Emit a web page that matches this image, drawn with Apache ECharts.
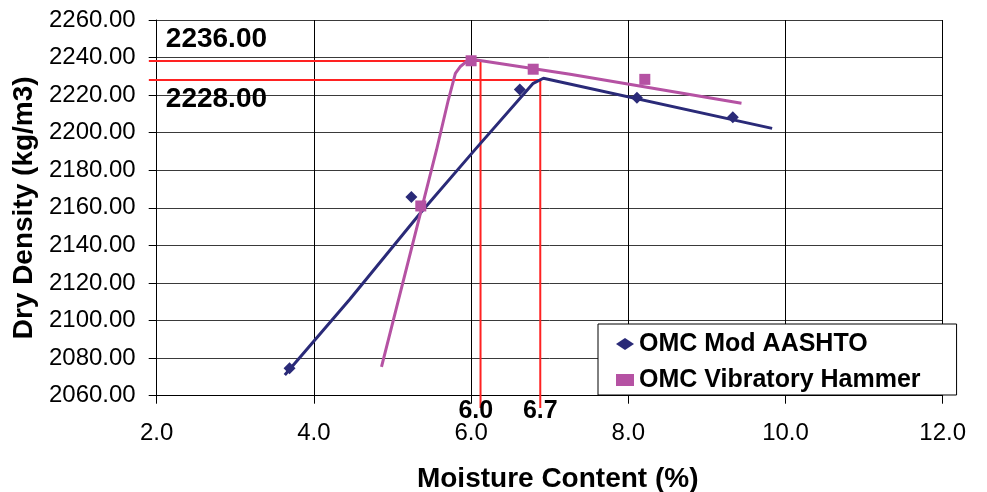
<!DOCTYPE html>
<html>
<head>
<meta charset="utf-8">
<script src="https://cdn.jsdelivr.net/npm/echarts@6/dist/echarts.min.js"></script>
<style>html,body{margin:0;padding:0;background:#fff}#c{width:987px;height:492px}</style>
</head>
<body>
<div id="c"></div>
<script>
// ---- data ----
const aashtoMoisture = [3.69, 5.24, 6.62, 8.11, 9.33];
const aashtoDensity  = [2074.6, 2165.8, 2223.0, 2218.6, 2208.2];
const hammerMoisture = [5.36, 6.00, 6.79, 8.21];
const hammerDensity  = [2161.0, 2238.3, 2233.8, 2228.4];
const aashtoFitX = [3.63, 4.46, 5.35, 6.05, 6.79, 6.92, 9.83];
const aashtoFitY = [2071.0, 2111.5, 2157.0, 2191.0, 2226.3, 2229.0, 2202.3];
const hammerFitX = [4.86, 5.56, 5.71, 5.80, 5.86, 5.94, 6.07, 7.26, 9.44];
const hammerFitY = [2075.4, 2190.8, 2217.4, 2231.6, 2235.1, 2237.8, 2238.7, 2231.1, 2215.7];
const omcX = [6.12, 6.88];            // vertical guide lines
const omcXLabels = ['6.0', '6.7'];
const maxDensity = [2238.2, 2228.1];  // horizontal guide lines
const maxDensityLabels = ['2236.00', '2228.00'];
const seriesNames = ['OMC Mod AASHTO', 'OMC Vibratory Hammer'];

const NAVY = '#2A2A78';
const MAGENTA = '#B552A3';
const RED = '#FF2222';
const FONT = 'Liberation Sans';

const zip = (a, b) => a.map((v, i) => [v, b[i]]);

const chart = echarts.init(document.getElementById('c'));
chart.setOption({
  animation: false,
  backgroundColor: '#fff',
  grid: {left: 156.7, right: 44.3, top: 20, bottom: 96.3, outerBoundsMode: 'none', containLabel: false},
  xAxis: {
    type: 'value', min: 2, max: 12, interval: 2,
    name: 'Moisture Content (%)', nameLocation: 'middle', nameGap: 70,
    nameTextStyle: {fontFamily: FONT, fontWeight: 'bold', fontSize: 28, color: '#000', padding: [0, 0, 0, 16]},
    axisLine: {lineStyle: {color: '#000', width: 1}},
    axisTick: {show: true, length: 8, lineStyle: {color: '#000'}},
    axisLabel: {formatter: v => v.toFixed(1), fontFamily: FONT, fontSize: 24, color: '#000', margin: 26},
    splitLine: {show: true, lineStyle: {color: '#000', width: 1}}
  },
  yAxis: {
    type: 'value', min: 2060, max: 2260, interval: 20,
    name: 'Dry Density (kg/m3)', nameLocation: 'middle', nameGap: 118, nameRotate: 90,
    nameTextStyle: {fontFamily: FONT, fontWeight: 'bold', fontSize: 28, color: '#000'},
    axisLine: {show: true, lineStyle: {color: '#000', width: 1}},
    axisTick: {show: true, length: 8, lineStyle: {color: '#000'}},
    axisLabel: {formatter: v => v.toFixed(2), fontFamily: FONT, fontSize: 24, color: '#000', margin: 21},
    splitLine: {show: true, lineStyle: {color: '#3a3a3a', width: 1}}
  },
  legend: {
    data: seriesNames,
    orient: 'vertical', left: 598, top: 324,
    padding: [7, 36, 2, 18],
    itemGap: 10, itemWidth: 18, itemHeight: 12, symbolKeepAspect: true,
    backgroundColor: '#fff', borderColor: '#000', borderWidth: 1, borderRadius: 0,
    textStyle: {fontFamily: FONT, fontWeight: 'bold', fontSize: 25, color: '#000', lineHeight: 26}
  },
  series: [
    {
      name: 'aashtoFit', type: 'line', data: zip(aashtoFitX, aashtoFitY), showSymbol: false, symbol: 'none',
      lineStyle: {color: NAVY, width: 3}, itemStyle: {color: NAVY}, z: 3, silent: true
    },
    {
      name: 'hammerFit', type: 'line', data: zip(hammerFitX, hammerFitY), showSymbol: false, symbol: 'none',
      lineStyle: {color: MAGENTA, width: 3}, itemStyle: {color: MAGENTA}, z: 3, silent: true
    },
    {
      name: seriesNames[0], type: 'scatter', data: zip(aashtoMoisture, aashtoDensity),
      symbol: 'diamond', symbolSize: 12, itemStyle: {color: NAVY, opacity: 1}, z: 5
    },
    {
      name: seriesNames[1], type: 'scatter', data: zip(hammerMoisture, hammerDensity),
      symbol: 'rect', symbolSize: 11, itemStyle: {color: MAGENTA, opacity: 1}, z: 5
    }
  ]
});

// guide lines and their labels, positioned through the chart's own scales
const P = (x, y) => chart.convertToPixel({gridIndex: 0}, [x, y]);
const elements = [];
const xLeft = 1.9, yBottom = 2053.5;
for (let i = 0; i < 2; i++) {
  const a = P(xLeft, maxDensity[i]), b = P(omcX[i], maxDensity[i]), c = P(omcX[i], yBottom);
  elements.push({type: 'line', z: 1, silent: true,
    shape: {x1: a[0], y1: a[1], x2: b[0], y2: b[1]}, style: {stroke: RED, lineWidth: 2}});
  elements.push({type: 'line', z: 1, silent: true,
    shape: {x1: b[0], y1: b[1], x2: c[0], y2: c[1]}, style: {stroke: RED, lineWidth: 2}});
}
const textAt = (x, y, txt, size) => {
  const p = P(x, y);
  elements.push({type: 'text', z: 10, silent: true, x: p[0], y: p[1],
    style: {text: txt, fontFamily: FONT, fontWeight: 'bold', fontSize: size, fill: '#000',
            align: 'center', verticalAlign: 'middle'}});
};
textAt(2.76, 2249.9, maxDensityLabels[0], 28);
textAt(2.76, 2217.6, maxDensityLabels[1], 28);
textAt(6.06, 2051.6, omcXLabels[0], 25);
textAt(6.88, 2051.6, omcXLabels[1], 25);
chart.setOption({graphic: {elements: elements}});
</script>
</body>
</html>
